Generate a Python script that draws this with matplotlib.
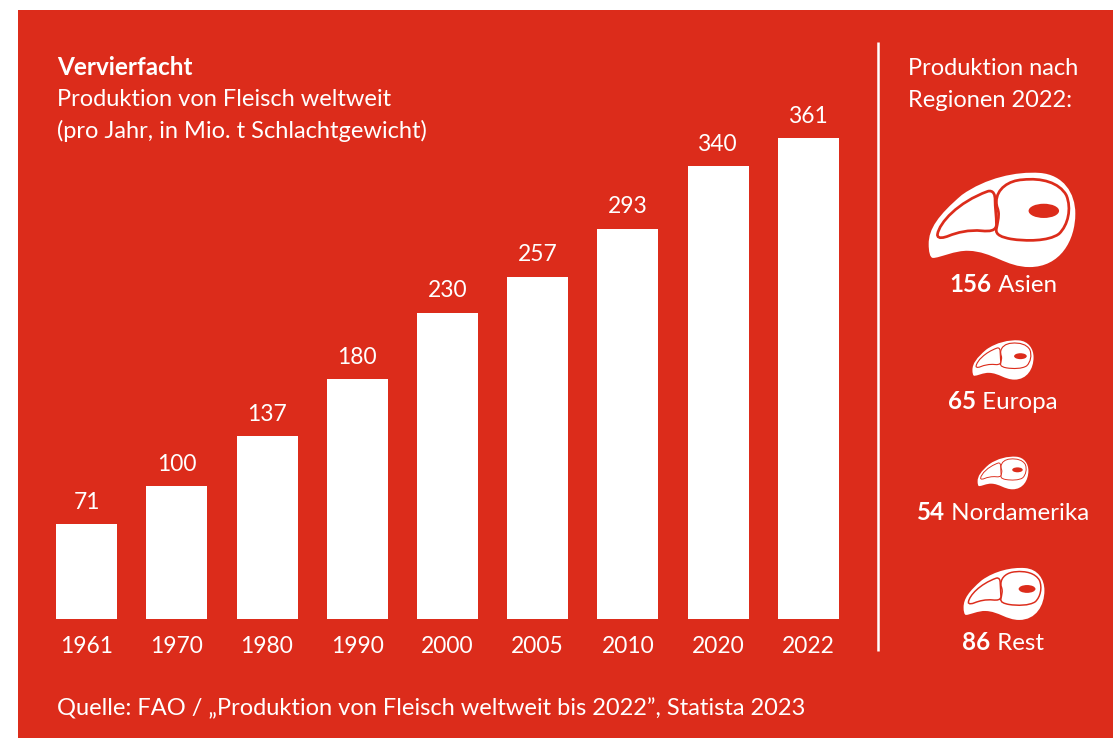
import matplotlib
matplotlib.use("Agg")
import matplotlib.pyplot as plt
from matplotlib.patches import PathPatch, Rectangle
from matplotlib.path import Path
from matplotlib.transforms import Affine2D

YEARS = ["1961", "1970", "1980", "1990", "2000", "2005", "2010", "2020", "2022"]
PRODUCTION = [71, 100, 137, 180, 230, 257, 293, 340, 361]

REGIONS = ["Asien", "Europa", "Nordamerika", "Rest"]
REGION_VALUES = [156, 65, 54, 86]

RED = "#DC2C1B"
W, H = 1113, 738
SIZE = 17.05
REGION_SIZE = 17.4
NUM_SIZE = 16.4

plt.rcParams["font.family"] = ["Lato", "DejaVu Sans"]


def curve(start, *segments):
    verts, codes = [start], [Path.MOVETO]
    for seg in segments:
        verts.extend(seg)
        codes.extend([Path.CURVE4] * 3)
    verts.append(start)
    codes.append(Path.CLOSEPOLY)
    return Path(verts, codes)


# steak outlines, traced in a 600x420 box
OUTER = curve((92, 250),
              [(92, 205), (120, 165), (190, 105)],
              [(260, 55), (350, 35), (420, 40)],
              [(490, 45), (525, 100), (525, 160)],
              [(525, 240), (480, 318), (390, 318)],
              [(320, 318), (280, 272), (210, 270)],
              [(170, 268), (125, 291), (105, 291)],
              [(95, 291), (92, 270), (92, 250)])
FAT = curve((122, 222),
            [(127, 190), (180, 130), (268, 98)],
            [(280, 95), (284, 105), (284, 120)],
            [(284, 140), (288, 170), (288, 192)],
            [(288, 207), (272, 209), (250, 207)],
            [(210, 203), (175, 212), (150, 222)],
            [(135, 228), (121, 230), (122, 222)])
MEAT = curve((296, 125),
             [(296, 90), (330, 66), (370, 64)],
             [(425, 58), (475, 72), (495, 108)],
             [(510, 145), (500, 192), (474, 217)],
             [(444, 238), (380, 238), (335, 231)],
             [(310, 226), (292, 220), (296, 205)],
             [(299, 190), (304, 170), (302, 155)],
             [(300, 142), (296, 140), (296, 125)])
EYE = Path.unit_circle()
EYE = Path(EYE.vertices * [45, 21] + [432, 152], EYE.codes)


def steak(ax, value, cx, cy):
    # icon width follows the value
    scale = value * 0.94 / 433
    tf = Affine2D().translate(-308.5, -179).scale(scale).translate(cx, cy) + ax.transData
    line = 16 * scale * 0.72  # red gap, in points
    ax.add_patch(PathPatch(OUTER, facecolor="white", edgecolor="none", transform=tf))
    for path in (FAT, MEAT):
        ax.add_patch(PathPatch(path, facecolor=RED, edgecolor=RED, lw=line, transform=tf))
    for path in (FAT, MEAT):
        ax.add_patch(PathPatch(path, facecolor="white", edgecolor="none", transform=tf))
    ax.add_patch(PathPatch(EYE, facecolor=RED, edgecolor="none", transform=tf))


def mixed_label(ax, value, name, cx, y):
    r = fig.canvas.get_renderer()
    bold = ax.text(0, y, str(value), color="white", fontsize=REGION_SIZE, fontweight="bold", va="baseline")
    rest = ax.text(0, y, " " + name, color="white", fontsize=REGION_SIZE, va="baseline")
    w1 = bold.get_window_extent(r).width
    w2 = rest.get_window_extent(r).width
    left = cx - (w1 + w2) / 2
    bold.set_x(left)
    rest.set_x(left + w1)


fig = plt.figure(figsize=(W / 100, H / 100), dpi=100, facecolor="white")

bg = fig.add_axes([0, 0, 1, 1])
bg.set_xlim(0, W)
bg.set_ylim(H, 0)
bg.axis("off")
bg.add_patch(Rectangle((18, 10), W - 18, H - 10, facecolor=RED, edgecolor="none"))
bg.plot([878, 878], [42, 651], color="white", lw=1.8, solid_capstyle="butt")

# bars: pixel box 56..839 wide, baseline at y=619, 361 at y=138
ax = fig.add_axes([56 / W, (H - 619) / H, (839 - 56) / W, (619 - 138) / H])
ax.patch.set_visible(False)
for s in ax.spines.values():
    s.set_visible(False)
x = list(range(len(YEARS)))
bars = ax.bar(x, PRODUCTION, width=61 / 90.25, color="white")
ax.set_xlim(-0.338, len(YEARS) - 1 + 0.338)
ax.set_ylim(0, 361)
ax.set_yticks([])
ax.set_xticks(x, YEARS)
ax.tick_params(axis="x", length=0, pad=12, labelcolor="white", labelsize=NUM_SIZE)
ax.bar_label(bars, labels=[str(v) for v in PRODUCTION], padding=8, color="white",
             fontsize=NUM_SIZE, clip_on=False)

bg.text(57, 75, "Vervierfacht", color="white", fontsize=SIZE + 0.4, fontweight="bold", va="baseline")
bg.text(57, 106, "Produktion von Fleisch weltweit", color="white", fontsize=SIZE, va="baseline")
bg.text(57, 138, "(pro Jahr, in Mio. t Schlachtgewicht)", color="white", fontsize=SIZE, va="baseline")
bg.text(908, 75, "Produktion nach", color="white", fontsize=SIZE, va="baseline")
bg.text(908, 107, "Regionen 2022:", color="white", fontsize=SIZE, va="baseline")
bg.text(57, 715, "Quelle: FAO / „Produktion von Fleisch weltweit bis 2022”, Statista 2023",
        color="white", fontsize=SIZE, va="baseline")

icon_centres = [(1002, 220), (1003, 360), (1003, 473), (1004, 594)]
label_pos = [(1003, 292), (1003, 409), (1003, 520), (1003, 650)]
for name, val, (ix, iy), (lx, ly) in zip(REGIONS, REGION_VALUES, icon_centres, label_pos):
    steak(bg, val, ix, iy)
    mixed_label(bg, val, name, lx, ly)

fig.savefig("out.png", dpi=100, facecolor="white")
